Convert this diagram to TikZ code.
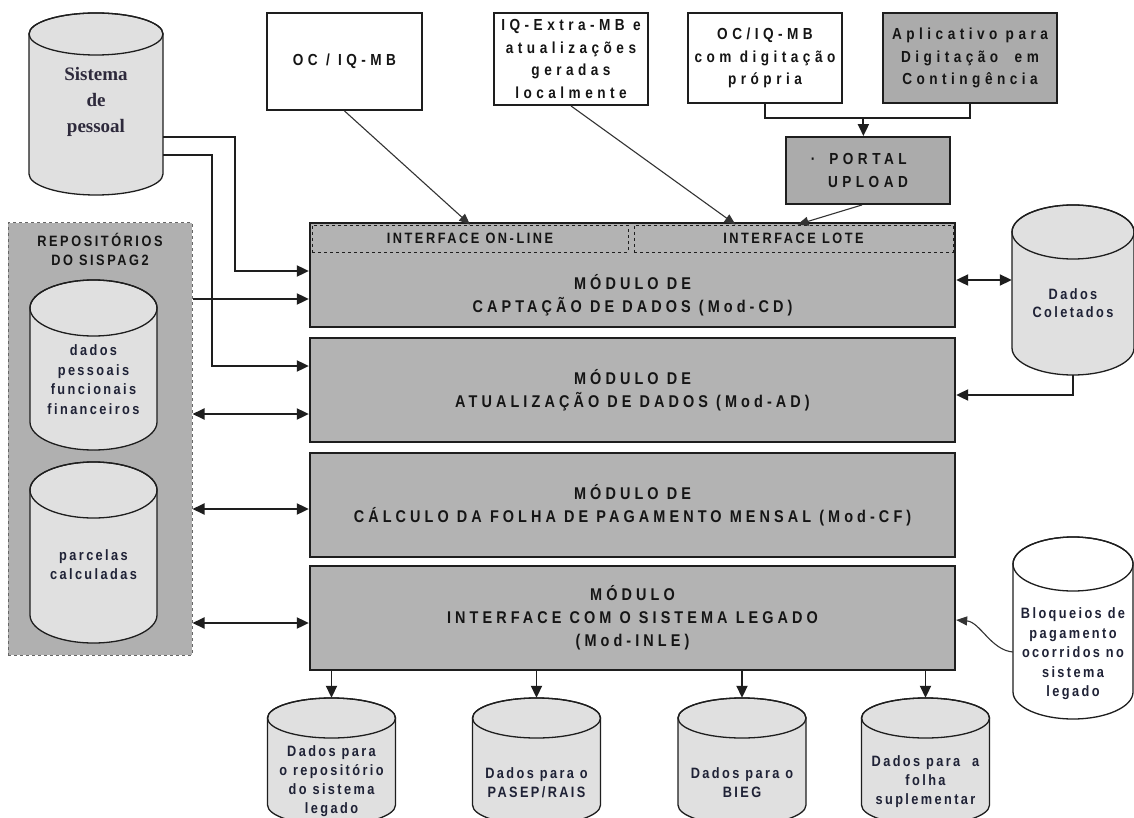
\documentclass[tikz,border=0pt]{standalone}
\usepackage{fontspec}
\setmainfont{Liberation Sans}
\newfontfamily\labw{Liberation Sans}[FakeStretch=0.85,LetterSpace=24]
\newfontfamily\labt{Liberation Sans}[FakeStretch=0.85,LetterSpace=28]
\newfontfamily\labm{Liberation Sans}[FakeStretch=0.85,LetterSpace=17]
\newfontfamily\labs{Liberation Sans}[FakeStretch=0.85,LetterSpace=16]
\newfontfamily\serb{Liberation Serif}
\usetikzlibrary{arrows.meta,calc}

\definecolor{modgray}{HTML}{B3B3B3}
\definecolor{boxgray}{HTML}{ABABAB}
\definecolor{repogray}{HTML}{B0B0B0}
\definecolor{cylfill}{HTML}{E0E0E0}
\definecolor{edge}{HTML}{1E1E1E}
\definecolor{ink}{HTML}{151515}
\definecolor{cylink}{HTML}{1F2236}
\definecolor{serink}{HTML}{2E2A3C}

% database cylinder: name, centre x, top-ellipse y, bottom-ellipse y, rx, ry, fill
\newcommand\dbcyl[7]{%
  \filldraw[cylline,fill=#7] ({#2-#5},#3) -- ({#2-#5},#4)
    arc[start angle=180,end angle=0,x radius=#5,y radius=#6] -- ({#2+#5},#3)
    arc[start angle=0,end angle=-180,x radius=#5,y radius=#6] -- cycle;
  \draw[cylline] (#2,#3) ellipse[x radius=#5,y radius=#6];
  \node[inner sep=0,minimum width={2*#5},minimum height={#4-#3+2*#6}] (#1) at (#2,{(#3+#4)/2}) {};
}

\begin{document}
\begin{tikzpicture}[x=1pt,y=-1pt,
  cylline/.style={draw=edge,line width=1.3},
  topbox/.style={draw=edge,line width=1.9,fill=white,inner sep=0,align=center,text=ink,
    font=\labt\bfseries\fontsize{16}{22.5}\selectfont},
  modbox/.style={draw=edge,line width=2.3,fill=modgray,inner sep=0,align=center,text=ink,
    minimum width=645,minimum height=104,font=\labw\bfseries\fontsize{17}{23}\selectfont},
  ifbox/.style={draw=edge,dashed,line width=0.9,inner sep=0,minimum height=27,text=ink,
    font=\labm\bfseries\fontsize{15}{16}\selectfont},
  modtext/.style={inner sep=0,align=center,text=ink,font=\labw\bfseries\fontsize{17}{23}\selectfont},
  cyltext/.style={inner sep=0,align=center,text=cylink,font=\labs\bfseries\fontsize{15}{19.5}\selectfont},
  conn/.style={draw=edge,line width=1.9,-{Triangle[length=12pt,width=11pt]}},
  dconn/.style={draw=edge,line width=1.9,{Triangle[length=12pt,width=11pt]}-{Triangle[length=12pt,width=11pt]}},
  link/.style={draw=edge,line width=1.9},
  thin/.style={draw=black!80,line width=1.1,-{Triangle[length=11pt,width=9pt]}}]

\useasboundingbox (0,0) rectangle (1134,818);
\clip (0,0) rectangle (1134,818);
\fill[white] (0,0) rectangle (1134,818);

% ---- repository group on the left
\node[draw=black!60,dashed,line width=1,fill=repogray,minimum width=184,minimum height=432,inner sep=0] (repo) at (100,439) {};
\node[inner sep=0,align=center,text=ink,font=\labm\bfseries\fontsize{15}{19}\selectfont] (repot) at (100,249.5) {REPOSITÓRIOS\\DO SISPAG2};

% ---- databases
\dbcyl{sp}{96}{34}{174}{67}{21}{cylfill}
\node[inner sep=0,align=center,text=serink,font=\serb\bfseries\fontsize{19}{26}\selectfont] (spt) at (96,102) {Sistema\\de\\pessoal};

\dbcyl{c1}{93.5}{308}{422}{63.5}{28}{cylfill}
\node[cyltext] (c1t) at (93.5,379.5) {dados\\pessoais\\funcionais\\financeiros};
\dbcyl{c2}{93.5}{490}{615}{63.5}{28}{cylfill}
\node[cyltext] (c2t) at (93.5,564.5) {parcelas\\calculadas};

\dbcyl{col}{1073}{232}{348}{61}{27}{cylfill}
\node[cyltext,font=\labs\bfseries\fontsize{15}{18.5}\selectfont] (colt) at (1073,303) {Dados\\Coletados};
\dbcyl{blq}{1073}{564}{692}{60}{27}{white}
\node[cyltext] (blqt) at (1073,654) {Bloqueios de\\pagamento\\ocorridos no\\sistema\\legado};

\dbcyl{b1}{331.5}{718}{805}{64}{20}{cylfill}
\node[cyltext,font=\labs\bfseries\fontsize{15}{19}\selectfont] (b1t) at (331.5,781.5) {Dados para\\o repositório\\do sistema\\legado};
\dbcyl{b2}{536.5}{718}{805}{64}{20}{cylfill}
\node[cyltext,font=\labs\bfseries\fontsize{15}{19}\selectfont] (b2t) at (536.5,782.5) {Dados para o\\PASEP/RAIS};
\dbcyl{b3}{742}{718}{805}{64}{20}{cylfill}
\node[cyltext,font=\labs\bfseries\fontsize{15}{19}\selectfont] (b3t) at (742,782.5) {Dados para o\\BIEG};
\dbcyl{b4}{925.5}{718}{805}{64}{20}{cylfill}
\node[cyltext,font=\labs\bfseries\fontsize{15}{19}\selectfont] (b4t) at (925.5,781.5) {Dados para~~a\\folha\\suplementar};

% ---- input boxes along the top
\node[topbox,minimum width=155,minimum height=97] (oc) at (344.5,61.5) {OC / IQ-MB};
\node[topbox,minimum width=154,minimum height=92] (iq) at (571,59) {IQ-Extra-MB e\\atualizações\\geradas\\localmente};
\node[topbox,minimum width=154,minimum height=90] (ocd) at (765,58) {OC/IQ-MB\\com digitação\\própria};
\node[topbox,fill=boxgray,minimum width=174,minimum height=90] (app) at (970,58) {Aplicativo para\\Digitação~~em\\Contingência};
\node[topbox,fill=boxgray,minimum width=164,minimum height=67] (portal) at (868,170.5) {\makebox[0pt][r]{·\hspace{14pt}}PORTAL\\UPLOAD};

% ---- modules
\node[modbox] (cd) at (632.5,275) {};
\node[ifbox,minimum width=316] (ifon) at (470,238.5) {INTERFACE ON-LINE};
\node[ifbox,minimum width=319] (iflote) at (793.5,238.5) {INTERFACE LOTE};
\node[modtext] (cdt) at (632.5,295) {MÓDULO DE\\CAPTAÇÃO DE DADOS (Mod-CD)};
\node[modbox] (ad) at (632.5,390) {MÓDULO DE\\ATUALIZAÇÃO DE DADOS (Mod-AD)};
\node[modbox] (cf) at (632.5,505) {MÓDULO DE\\CÁLCULO DA FOLHA DE PAGAMENTO MENSAL (Mod-CF)};
\node[modbox] (inle) at (632.5,618) {MÓDULO\\INTERFACE COM O SISTEMA LEGADO\\(Mod-INLE)};

% ---- connectors from the personnel system
\coordinate (cdA) at ($(cd.west)+(0,-4)$);
\coordinate (adA) at ($(ad.west)+(0,-24)$);
\draw[conn] ($(sp.east)+(0,33)$) -| ($(cdA)+(-74,0)$) -- (cdA);
\draw[conn] ($(sp.east)+(0,51)$) -| ($(adA)+(-97,0)$) -- (adA);

% ---- connectors from the repositories
\coordinate (cdB) at ($(cd.west)+(0,24)$);
\coordinate (adB) at ($(ad.west)+(0,24)$);
\coordinate (cfB) at ($(cf.west)+(0,4)$);
\coordinate (inB) at ($(inle.west)+(0,5)$);
\draw[conn] (repo.east |- cdB) -- (cdB);
\draw[dconn] (repo.east |- adB) -- (adB);
\draw[dconn] (repo.east |- cfB) -- (cfB);
\draw[dconn] (repo.east |- inB) -- (inB);

% ---- collected data store
\coordinate (cdR) at ($(cd.east)+(0,5)$);
\draw[dconn] (cdR) -- (col.west |- cdR);
\draw[conn] (col.south) |- ($(ad.east)+(0,5)$);

% ---- top inputs into the interfaces
\draw[thin] (oc.south) -- (ifon.north);
\draw[thin] (iq.south) -- ($(iflote.north)+(-58,0)$);
\draw[thin] ($(portal.south)+(-6,0)$) -- ($(iflote.north)+(4,0)$);
\draw[link] (ocd.south) -- ++(0,14) -| (app.south);
\coordinate (mg) at ($(ocd.south)!0.48!(app.south)+(0,14)$);
\draw[conn] (mg) -- (mg |- portal.north);

% ---- outputs of the legacy interface module
\foreach \b in {b1,b2,b3,b4}
  \draw[conn] (inle.south -| \b.north) -- (\b.north);

% ---- blocked payments feed
\draw[thin] ($(blq.west)+(0,24)$) .. controls +(-22,-2) and +(24,2) .. ($(inle.east)+(0,2)$);

\end{tikzpicture}
\end{document}
